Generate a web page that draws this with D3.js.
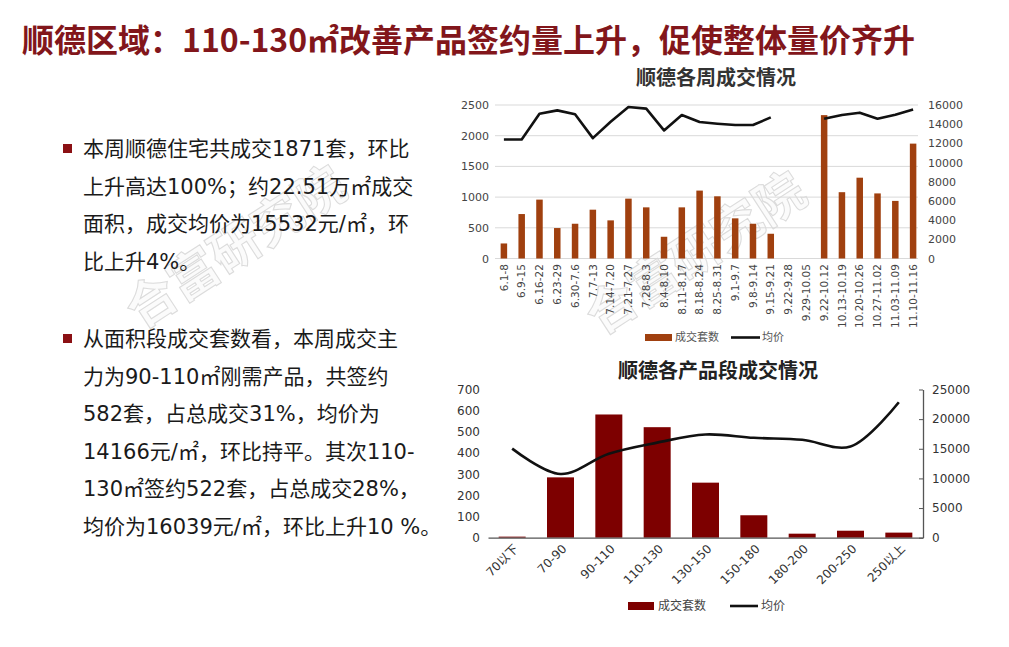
<!DOCTYPE html>
<html>
<head>
<meta charset="utf-8">
<script src="https://cdn.jsdelivr.net/npm/d3@7"></script>
<style>
  body { margin: 0; background: #fff; }
  svg { display: block; }
  text { font-family: "DejaVu Sans", "Noto Sans CJK SC", sans-serif; }
</style>
</head>
<body>
<svg id="page" width="1009" height="647"></svg>
<script>
// weekly data (top chart)
const weeks = ["6.1-8", "6.9-15", "6.16-22", "6.23-29", "6.30-7.6", "7.7-13", "7.14-7.20", "7.21-7.27",
    "7.28-8.3", "8.4-8.10", "8.11-8.17", "8.18-8.24", "8.25-8.31", "9.1-9.7", "9.8-9.14", "9.15-9.21",
    "9.22-9.28", "9.29-10.05", "9.22-10.12", "10.13-10.19", "10.20-10.26", "10.27-11.02", "11.03-11.09", "11.10-11.16"];
const weekCount = [245, 724, 959, 496, 566, 795, 621, 975, 833, 354, 833, 1106, 1013, 654, 566, 403,
    0, 0, 2335, 1080, 1316, 1060, 938, 1871];
const weekPrice = [12400, 12400, 15090, 15440, 15030, 12550, 14260, 15790, 15620, 13350, 14950, 14220,
    14050, 13910, 13910, 14710, null, null, 14570, 14950, 15200, 14570, 14990, 15532];
const weekLeftTicks = [0, 500, 1000, 1500, 2000, 2500];
const weekRightTicks = [0, 2000, 4000, 6000, 8000, 10000, 12000, 14000, 16000];

// product segment data (bottom chart)
const segments = ["70以下", "70-90", "90-110", "110-130", "130-150", "150-180", "180-200", "200-250", "250以上"];
const segCount = [5, 285, 582, 522, 260, 106, 19, 33, 24];
const segPrice = [15030, 10750, 14166, 16039, 17420, 16850, 16520, 15390, 22850];
const segLeftTicks = [0, 100, 200, 300, 400, 500, 600, 700];
const segRightTicks = [0, 5000, 10000, 15000, 20000, 25000];

// left side text
const para1 = ["本周顺德住宅共成交1871套，环比", "上升高达100%；约22.51万㎡成交",
    "面积，成交均价为15532元/㎡，环", "比上升4%。"];
const para2 = ["从面积段成交套数看，本周成交主", "力为90-110㎡刚需产品，共签约",
    "582套，占总成交31%，均价为", "14166元/㎡，环比持平。其次110-",
    "130㎡签约522套，占总成交28%，", "均价为16039元/㎡，环比上升10 %。"];

const svg = d3.select("#page");
const fmt = d3.format("d");

// watermark
[[245, 262], [705, 268]].forEach(([x, y]) => {
    svg.append("text")
        .attr("transform", `translate(${x},${y}) rotate(-33)`)
        .attr("text-anchor", "middle")
        .style("font-family", "Noto Sans CJK SC")
        .style("font-size", "50px")
        .style("font-weight", "bold")
        .attr("fill", "#fbfbfb")
        .attr("stroke", "#dcdcdc")
        .attr("stroke-width", 1.1)
        .text("合富研究院");
});

// main title
svg.append("text")
    .attr("x", 22)
    .attr("y", 52)
    .style("font-size", "32px")
    .style("font-weight", "bold")
    .style("font-family", "\"Noto Sans CJK SC\", sans-serif")
    .attr("fill", "#82161b")
    .text("顺德区域：110-130㎡改善产品签约量上升，促使整体量价齐升");

// paragraphs
function paragraph(lines, y0) {
    svg.append("rect")
        .attr("x", 63).attr("y", y0 - 12)
        .attr("width", 9).attr("height", 9)
        .attr("fill", "#8b1014");
    lines.forEach((line, i) => {
        svg.append("text")
            .attr("x", 83)
            .attr("y", y0 + i * 37.6)
            .style("font-size", "21px")
            .attr("fill", "#1a1a1a")
            .text(line);
    });
}
paragraph(para1, 156);
paragraph(para2, 346);

// ---------- top chart ----------
const x1 = d3.scaleBand().domain(weeks).range([495, 922]);
const y1 = d3.scaleLinear().domain([0, 2500]).range([258.5, 105]);
const y1r = d3.scaleLinear().domain([0, 16000]).range([258.5, 105]);

svg.append("text")
    .attr("x", 716).attr("y", 85)
    .attr("text-anchor", "middle")
    .style("font-family", "\"Noto Sans CJK SC\", sans-serif")
    .style("font-size", "20px").style("font-weight", "bold")
    .attr("fill", "#333")
    .text("顺德各周成交情况");

svg.append("g")
    .selectAll("line")
    .data(weekLeftTicks)
    .join("line")
    .attr("x1", 495).attr("x2", 918)
    .attr("y1", d => y1(d)).attr("y2", d => y1(d))
    .attr("stroke", "#d9d9d9");

svg.append("g")
    .attr("transform", "translate(495,0)")
    .call(d3.axisLeft(y1).tickValues(weekLeftTicks).tickFormat(fmt).tickSize(0).tickPadding(6))
    .call(g => g.select(".domain").remove())
    .selectAll("text")
    .style("font-size", "11px").attr("fill", "#444");

svg.append("g")
    .attr("transform", "translate(922,0)")
    .call(d3.axisRight(y1r).tickValues(weekRightTicks).tickFormat(fmt).tickSize(0).tickPadding(6))
    .call(g => g.select(".domain").remove())
    .selectAll("text")
    .style("font-size", "11px").attr("fill", "#444");

svg.append("g")
    .attr("transform", "translate(0,262)")
    .call(d3.axisBottom(x1).tickSize(0).tickPadding(0))
    .call(g => g.select(".domain").remove())
    .selectAll("text")
    .attr("transform", "rotate(-90)")
    .attr("dx", "-0.2em")
    .attr("dy", "0.35em")
    .attr("y", 0)
    .style("text-anchor", "end")
    .style("font-size", "10.5px")
    .attr("fill", "#444");

const bw1 = 6.5;
svg.append("g")
    .selectAll("rect")
    .data(weeks)
    .join("rect")
    .attr("x", (d) => x1(d) + x1.bandwidth() / 2 - bw1 / 2)
    .attr("y", (d, i) => y1(weekCount[i]))
    .attr("width", bw1)
    .attr("height", (d, i) => y1(0) - y1(weekCount[i]))
    .attr("fill", "#a0400f");

const line1 = d3.line()
    .defined(d => d.v !== null)
    .x(d => x1(d.k) + x1.bandwidth() / 2)
    .y(d => y1r(d.v));
svg.append("path")
    .datum(weeks.map((k, i) => ({ k: k, v: weekPrice[i] })))
    .attr("d", line1)
    .attr("fill", "none")
    .attr("stroke", "#111")
    .attr("stroke-width", 2.6)
    .attr("stroke-linejoin", "round");

// top legend
svg.append("rect").attr("x", 645).attr("y", 334).attr("width", 27).attr("height", 7).attr("fill", "#a0400f");
svg.append("text").attr("x", 675).attr("y", 341).style("font-family", "\"Noto Sans CJK SC\"")
    .style("font-size", "11px").attr("fill", "#555").text("成交套数");
svg.append("line").attr("x1", 731).attr("x2", 760).attr("y1", 337.5).attr("y2", 337.5)
    .attr("stroke", "#111").attr("stroke-width", 2.6);
svg.append("text").attr("x", 762).attr("y", 341).style("font-family", "\"Noto Sans CJK SC\"")
    .style("font-size", "11px").attr("fill", "#555").text("均价");

// ---------- bottom chart ----------
const x2 = d3.scaleBand().domain(segments).range([488, 923]);
const y2 = d3.scaleLinear().domain([0, 700]).range([537.7, 389.5]);
const y2r = d3.scaleLinear().domain([0, 25000]).range([537.7, 389.5]);

svg.append("text")
    .attr("x", 718).attr("y", 378)
    .attr("text-anchor", "middle")
    .style("font-family", "\"Noto Sans CJK SC\", sans-serif")
    .style("font-size", "20px").style("font-weight", "bold")
    .attr("fill", "#222")
    .text("顺德各产品段成交情况");

svg.append("g")
    .attr("transform", "translate(484,0)")
    .call(d3.axisLeft(y2).tickValues(segLeftTicks).tickFormat(fmt).tickSize(0).tickPadding(4))
    .call(g => g.select(".domain").remove())
    .selectAll("text")
    .style("font-size", "12px").attr("fill", "#333");

const bw2 = 27;
svg.append("g")
    .selectAll("rect")
    .data(segments)
    .join("rect")
    .attr("x", d => x2(d) + x2.bandwidth() / 2 - bw2 / 2)
    .attr("y", (d, i) => y2(segCount[i]))
    .attr("width", bw2)
    .attr("height", (d, i) => y2(0) - y2(segCount[i]))
    .attr("fill", "#7d0000");

const line2 = d3.line()
    .curve(d3.curveCatmullRom.alpha(0.5))
    .x(d => x2(d.k) + x2.bandwidth() / 2)
    .y(d => y2r(d.v));
svg.append("path")
    .datum(segments.map((k, i) => ({ k: k, v: segPrice[i] })))
    .attr("d", line2)
    .attr("fill", "none")
    .attr("stroke", "#111")
    .attr("stroke-width", 2.6);

svg.append("g")
    .attr("transform", "translate(0,537.7)")
    .call(d3.axisBottom(x2).tickSize(0).tickPadding(6))
    .call(g => g.select(".domain").attr("stroke", "#555").attr("stroke-width", 1.3))
    .selectAll("text")
    .attr("transform", "rotate(-45)")
    .attr("dx", "-0.3em")
    .attr("dy", "0.6em")
    .style("text-anchor", "end")
    .style("font-size", "12px")
    .attr("fill", "#333");

svg.append("g")
    .attr("transform", "translate(923,0)")
    .call(d3.axisRight(y2r).tickValues(segRightTicks).tickFormat(fmt).tickSizeInner(-4).tickSizeOuter(0).tickPadding(9))
    .call(g => g.select(".domain").attr("stroke", "#555").attr("stroke-width", 1.3))
    .call(g => g.selectAll(".tick line").attr("stroke", "#555"))
    .selectAll("text")
    .style("font-size", "12px").attr("fill", "#333");

// bottom legend
svg.append("rect").attr("x", 628).attr("y", 602).attr("width", 26).attr("height", 8).attr("fill", "#7d0000");
svg.append("text").attr("x", 658).attr("y", 610).style("font-family", "\"Noto Sans CJK SC\"")
    .style("font-size", "12px").attr("fill", "#444").text("成交套数");
svg.append("line").attr("x1", 730).attr("x2", 758).attr("y1", 606).attr("y2", 606)
    .attr("stroke", "#111").attr("stroke-width", 2.6);
svg.append("text").attr("x", 761).attr("y", 610).style("font-family", "\"Noto Sans CJK SC\"")
    .style("font-size", "12px").attr("fill", "#444").text("均价");
</script>
</body>
</html>
